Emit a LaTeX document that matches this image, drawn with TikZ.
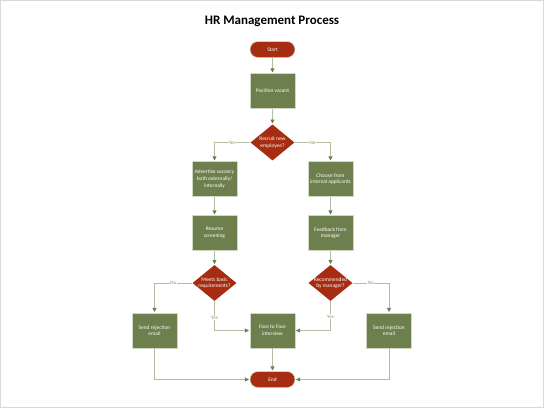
\documentclass[tikz,border=0pt]{standalone}
\usepackage{fontspec}
\setmainfont{Carlito}
\usetikzlibrary{shapes.geometric, arrows.meta, positioning}

\definecolor{hrred}{RGB}{166,45,18}
\definecolor{hrgreen}{RGB}{108,127,77}
\definecolor{hrline}{RGB}{178,190,160}
\definecolor{hrframe}{RGB}{217,217,217}

% text that does not widen a diamond
\newcommand{\dtxt}[1]{\makebox[0pt]{\begin{tabular}{@{}c@{}}#1\end{tabular}}}

\begin{document}
\begin{tikzpicture}[x=1pt, y=-1pt,
		every node/.style={font=\fontsize{5.4}{6.6}\selectfont, text=white},
		terminal/.style={rectangle, rounded corners=8pt, fill=hrred, draw=hrline!60, line width=0.5pt,
			minimum width=45pt, minimum height=16pt, inner sep=0pt},
		process/.style={rectangle, fill=hrgreen, draw=hrline!60, line width=0.5pt,
			minimum width=45pt, minimum height=35pt, inner sep=1pt, align=center},
		decision/.style={diamond, fill=hrred, inner sep=0pt,
			minimum width=44pt, minimum height=36pt},
		flow/.style={draw=hrline, line width=0.8pt, shorten >=0.8pt,
			-{Triangle[length=4pt, width=4pt, color=hrgreen]}},
		lbl/.style={fill=white, inner sep=0.6pt, text=gray!90, font=\fontsize{5}{5.5}\selectfont}]
	
	% Frame
	\useasboundingbox (0,0) rectangle (544,408);
	\draw[hrframe, line width=1pt] (0.5,0.5) rectangle (543.5,407.5);
	
	% Title
	\node[text=black, font=\fontsize{13}{15}\selectfont\bfseries] (title) at (272,21) {HR Management Process};
	
	% Middle column
	\node[terminal] (start) at (272.5,49.5) {Start};
	\node[process] (vacant) at (272.5,91) {Position vacant};
	\node[decision] (recruit) at (272.5,142.5) {\dtxt{Recruit new\\employee?}};
	\node[process] (face) at (272.5,330.5) {Face to Face\\interview};
	\node[terminal] (end) at (272.5,379.5) {End};
	
	% External branch
	\node[process] (advert) at (214.5,179) {Advertise vacancy\\both externally/\\internally};
	\node[process] (resume) at (214.5,233) {Resume\\screening};
	\node[decision] (meets) at (214.5,283) {\dtxt{Meets basic\\requirements?}};
	\node[process] (rejectl) at (154.5,330.5) {Send rejection\\email};
	
	% Internal branch
	\node[process] (choose) at (330.5,179) {Choose from\\internal applicants};
	\node[process] (feedback) at (330.5,233) {Feedback from\\manager};
	\node[decision] (recomm) at (330.5,283) {\dtxt{Recommended\\by manager?}};
	\node[process] (rejectr) at (389,330.5) {Send rejection\\email};
	
	% Connectors
	\draw[flow] (start) -- (vacant);
	\draw[flow] (vacant) -- (recruit);
	\draw[flow] (recruit.west) -| node[lbl, pos=0.25] {Yes} (advert);
	\draw[flow] (recruit.east) -| node[lbl, pos=0.25] {No} (choose);
	\draw[flow] (advert) -- (resume);
	\draw[flow] (choose) -- (feedback);
	\draw[flow] (resume) -- (meets);
	\draw[flow] (feedback) -- (recomm);
	\draw[flow] (meets.west) -| node[lbl, pos=0.25] {No} (rejectl);
	\draw[flow] (meets.south) |- node[lbl, pos=0.29] {Yes} (face);
	\draw[flow] (recomm.east) -| node[lbl, pos=0.25] {No} (rejectr);
	\draw[flow] (recomm.south) |- node[lbl, pos=0.26] {Yes} (face);
	\draw[flow] (face) -- (end);
	\draw[flow] (rejectl) |- (end);
	\draw[flow] (rejectr) |- (end);
	
\end{tikzpicture}
\end{document}
